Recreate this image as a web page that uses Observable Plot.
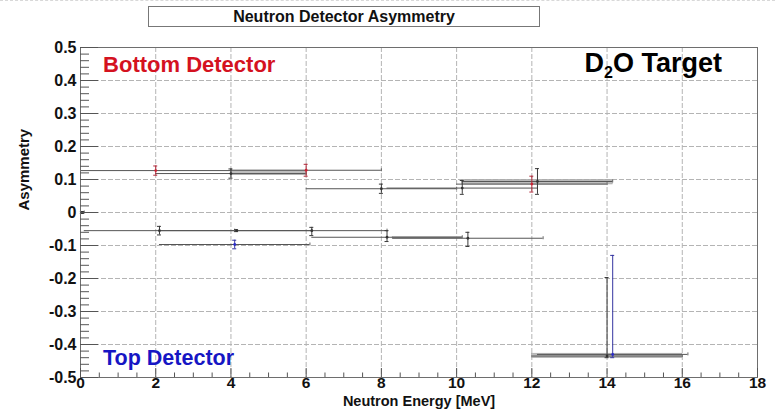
<!DOCTYPE html>
<html>
<head>
<meta charset="utf-8">
<script src="https://cdn.jsdelivr.net/npm/d3@7"></script>
<script src="https://cdn.jsdelivr.net/npm/@observablehq/plot@0.6"></script>
<style>
  html, body { margin: 0; padding: 0; background: #fff; }
  #wrap { position: relative; width: 775px; height: 415px; overflow: hidden; font-family: "Liberation Sans", Arial, sans-serif; }
  #topdash { position: absolute; left: 0; top: 0; width: 775px; border-top: 1px dashed #d8d8d8; }
  #title { position: absolute; left: 148px; top: 6px; width: 390px; height: 19px; border: 1px solid #777; background: #fff;
           font-weight: bold; font-size: 16px; line-height: 19px; text-align: center; color: #111; z-index: 2; }
  #chart { position: absolute; left: 0; top: 0; }
</style>
</head>
<body>
<div id="wrap">
  <div id="topdash"></div>
  <div id="chart"></div>
  <div id="title">Neutron Detector Asymmetry</div>
</div>
<script>
// ---- axes / ticks ----
const xDomain = [0, 18];
const yDomain = [-0.5, 0.5];
const xMajor = [0, 2, 4, 6, 8, 10, 12, 14, 16, 18];
const xLabels = ["0", "2", "4", "6", "8", "10", "12", "14", "16", "18"];
const yMajor = [0.5, 0.4, 0.3, 0.2, 0.1, 0, -0.1, -0.2, -0.3, -0.4, -0.5];
const yLabels = ["0.5", "0.4", "0.3", "0.2", "0.1", "0", "-0.1", "-0.2", "-0.3", "-0.4", "-0.5"];
const xGrid = [2, 4, 6, 8, 10, 12, 14, 16];
const yGrid = [0.4, 0.3, 0.2, 0.1, 0, -0.1, -0.2, -0.3, -0.4];
const xMinor = d3.range(0.5, 18, 0.5).filter(v => Math.abs(v % 2) > 1e-9);
const yMinor = d3.range(-0.48, 0.5, 0.02).filter(v => Math.abs(Math.round(v * 10) - v * 10) > 1e-6);

// ---- data: points with red markers ----
const redX   = [2, 6, 12];
const redY   = [0.127, 0.128, 0.086];
const redXLo = [0, 4, 10];
const redXHi = [4, 8, 14];
const redYLo = [0.113, 0.110, 0.062];
const redYHi = [0.141, 0.146, 0.110];

// ---- data: points with dark markers ----
const darkX   = [4, 8, 10.15, 12.15, 0.05, 2.1, 4.15, 6.15, 8.15, 10.3, 14];
const darkY   = [0.118, 0.072, 0.074, 0.094, 0, -0.055, -0.055, -0.055, -0.075, -0.078, -0.435];
const darkXLo = [2, 6, 8.15, 10.15, 0, 0.1, 2.15, 4.15, 6.15, 8.3, 12];
const darkXHi = [6, 10, 12.15, 14.15, 0.1, 4.1, 6.15, 8.15, 10.15, 12.3, 16];
const darkYLo = [0.104, 0.058, 0.055, 0.055, -0.003, -0.068, -0.058, -0.070, -0.088, -0.103, -0.44];
const darkYHi = [0.132, 0.086, 0.097, 0.133, 0.003, -0.042, -0.052, -0.045, -0.055, -0.060, -0.197];

// ---- data: points with blue markers ----
const blueX   = [4.1, 14.15];
const blueY   = [-0.097, -0.43];
const blueXLo = [2.1, 12.15];
const blueXHi = [6.1, 16.15];
const blueYLo = [-0.110, -0.44];
const blueYHi = [-0.084, -0.13];

// ---- shaded error boxes ----
const bandX1 = [4, 10.15, 8.3, 12];
const bandX2 = [6, 14.15, 10.15, 16];
const bandY1 = [0.113, 0.085, -0.079, -0.441];
const bandY2 = [0.127, 0.099, -0.074, -0.428];

// ---- annotations ----
const annText = ["Bottom Detector", "Top Detector", "D2O Target"];
const annX = [0.6, 0.6, 13.4];
const annY = [0.448, -0.442, 0.452];

function series(name, X, Y, XL, XH, YL, YH) {
  return X.map((x, i) => ({series: name, x, y: Y[i], xLo: XL[i], xHi: XH[i], yLo: YL[i], yHi: YH[i]}));
}
const points = [
  ...series("dark", darkX, darkY, darkXLo, darkXHi, darkYLo, darkYHi),
  ...series("red", redX, redY, redXLo, redXHi, redYLo, redYHi),
  ...series("blue", blueX, blueY, blueXLo, blueXHi, blueYLo, blueYHi)
];
const bands = bandX1.map((x1, i) => ({x1, x2: bandX2[i], y1: bandY1[i], y2: bandY2[i]}));
const anns = annText.map((t, i) => ({t, x: annX[i], y: annY[i]}));
const barColor = {dark: "#3a3a3a", red: "#b02a3a", blue: "#3434a0"};
const dotColor = {dark: "#333", red: "#cc2233", blue: "#2a2acc"};
const annColor = {"Bottom Detector": "#d4121f", "Top Detector": "#1616c4", "D2O Target": "#000"};
const annSize = {"Bottom Detector": 22, "Top Detector": 21.5, "D2O Target": 27};

const plot = Plot.plot({
  width: 775,
  height: 415,
  marginLeft: 80,
  marginRight: 18,
  marginTop: 47,
  marginBottom: 38,
  x: {domain: xDomain, axis: null},
  y: {domain: yDomain, axis: null},
  style: {fontFamily: "Liberation Sans, Arial, sans-serif", background: "transparent", overflow: "visible"},
  marks: [
    // grid
    Plot.ruleX(xGrid, {x: d => d, stroke: "#b4b4b4", strokeDasharray: "5,2", strokeWidth: 1}),
    Plot.ruleY(yGrid, {y: d => d, stroke: "#b4b4b4", strokeDasharray: "5,2", strokeWidth: 1}),
    // shaded boxes
    Plot.rect(bands, {x1: "x1", x2: "x2", y1: "y1", y2: "y2", fill: "#bdbdbd", stroke: "#a5a5a5", strokeWidth: 0.6}),
    // horizontal error bars
    Plot.ruleY(points, {y: "y", x1: "xLo", x2: "xHi", stroke: "#555", strokeWidth: 1}),
    // small end marks of horizontal bars
    Plot.ruleX(points, {x: "xHi", y1: "y", y2: "y", insetTop: -1.5, insetBottom: -1.5, stroke: "#666", strokeWidth: 1}),
    // vertical error bars
    Plot.ruleX(points, {x: "x", y1: "yLo", y2: "yHi", stroke: d => barColor[d.series], strokeWidth: 1}),
    Plot.ruleY(points, {y: "yHi", x1: "x", x2: "x", insetLeft: -2, insetRight: -2, stroke: d => barColor[d.series], strokeWidth: 1}),
    Plot.ruleY(points, {y: "yLo", x1: "x", x2: "x", insetLeft: -2, insetRight: -2, stroke: d => barColor[d.series], strokeWidth: 1}),
    Plot.dot(points, {x: "x", y: "y", r: 1.4, fill: d => dotColor[d.series], stroke: "none"}),
    // frame
    Plot.frame({stroke: "#6e6e6e", strokeWidth: 1}),
    // y ticks (inward)
    Plot.ruleY(yMajor, {y: d => d, x1: xDomain[0], x2: xDomain[0], insetRight: -18, stroke: "#555"}),
    Plot.ruleY(yMinor, {y: d => d, x1: xDomain[0], x2: xDomain[0], insetRight: -9, stroke: "#555"}),
    // x ticks (inward)
    Plot.ruleX(xMajor, {x: d => d, y1: yDomain[0], y2: yDomain[0], insetTop: -9, stroke: "#555"}),
    Plot.ruleX(xMinor, {x: d => d, y1: yDomain[0], y2: yDomain[0], insetTop: -4.5, stroke: "#555"}),
    // tick labels
    Plot.text(yMajor, {y: d => d, text: (d, i) => yLabels[i], frameAnchor: "left", textAnchor: "end", dx: -4, fontSize: 16, fontWeight: "bold", fill: "#111"}),
    Plot.text(xMajor, {x: d => d, text: (d, i) => xLabels[i], frameAnchor: "bottom", dy: 10.5, fontSize: 15.5, fontWeight: "bold", fill: "#111"}),
    // axis titles
    Plot.text(["Asymmetry"], {frameAnchor: "left", dx: -56, dy: -2, rotate: -90, fontSize: 15, fontWeight: "bold", fill: "#111"}),
    Plot.text(["Neutron Energy [MeV]"], {frameAnchor: "bottom", dy: 28, fontSize: 14.5, fontWeight: "bold", fill: "#111"}),
    // annotations
    Plot.text(anns, {x: "x", y: "y", text: "t", textAnchor: "start", fontWeight: "bold",
                     fill: d => annColor[d.t], fontSize: d => annSize[d.t]})
  ]
});

// subscript for D2O
plot.querySelectorAll("text").forEach(el => {
  if (el.textContent === "D2O Target") {
    const ns = "http://www.w3.org/2000/svg";
    el.textContent = "";
    const a = document.createElementNS(ns, "tspan"); a.textContent = "D";
    const b = document.createElementNS(ns, "tspan"); b.textContent = "2";
    b.setAttribute("font-size", "16"); b.setAttribute("dy", "6");
    const c = document.createElementNS(ns, "tspan"); c.textContent = "O Target"; c.setAttribute("dy", "-6");
    el.append(a, b, c);
  }
});

document.getElementById("chart").append(plot);
</script>
</body>
</html>
